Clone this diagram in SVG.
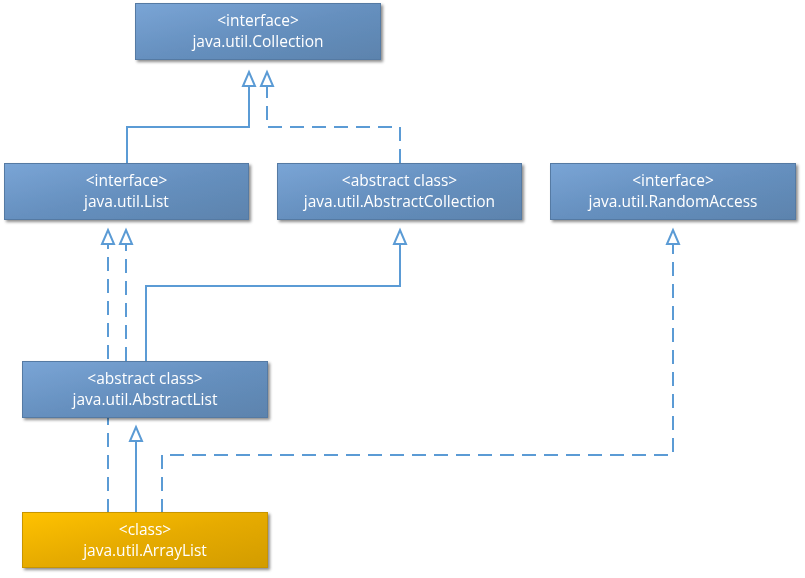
<svg xmlns="http://www.w3.org/2000/svg" width="805" height="578" viewBox="0 0 805 578">
<style>
.node rect{stroke-width:1}
.blue{fill:url(#gBlue);stroke:#557aa3}
.gold{fill:url(#gGold);stroke:#c89500}
.t{font-family:"Open Sans","Liberation Sans",sans-serif;font-size:15.5px;fill:#ffffff;text-anchor:middle}
.c{fill:none;stroke:#5b9bd5;stroke-width:2;marker-end:url(#tri)}
.d{stroke-dasharray:14 8}
</style>
<defs>
<linearGradient id="gBlue" x1="0" y1="0" x2="1" y2="1">
<stop offset="0" stop-color="#7aa5d6"/>
<stop offset="0.5" stop-color="#6690bf"/>
<stop offset="1" stop-color="#5c83ad"/>
</linearGradient>
<linearGradient id="gGold" x1="0" y1="0" x2="1" y2="1">
<stop offset="0" stop-color="#ffc200"/>
<stop offset="0.5" stop-color="#e6ab00"/>
<stop offset="1" stop-color="#d29c00"/>
</linearGradient>
<filter id="sh" x="-5%" y="-10%" width="115%" height="140%">
<feDropShadow dx="2" dy="2" stdDeviation="1.5" flood-color="#000" flood-opacity="0.45"/>
</filter>
<marker id="tri" markerUnits="userSpaceOnUse" markerWidth="18" markerHeight="16" refX="1" refY="8" orient="auto">
<path d="M1,2 L15,8 L1,14 Z" fill="#ffffff" stroke="#5b9bd5" stroke-width="2"/>
</marker>
</defs>
<rect width="805" height="578" fill="#ffffff"/>
<g id="connectors">
<path class="c" d="M127,163 V127 H249 V86"/>
<path class="c d" d="M400,163 V127 H267 V86"/>
<path class="c d" d="M108,513 V244"/>
<path class="c d" d="M126,361 V244"/>
<path class="c" d="M146,361 V286 H400 V244"/>
<path class="c" d="M136,513 V441"/>
<path class="c d" d="M162,513 V455 H673 V244"/>
</g>
<g id="collection" class="node" filter="url(#sh)">
<rect class="blue" x="135.5" y="3.5" width="245" height="56"/>
<text class="t" x="258" y="26">&lt;interface&gt;</text>
<text class="t" x="258" y="47">java.util.Collection</text>
</g>
<g id="list" class="node" filter="url(#sh)">
<rect class="blue" x="4.5" y="163.5" width="244" height="56"/>
<text class="t" x="126.5" y="186">&lt;interface&gt;</text>
<text class="t" x="126.5" y="207">java.util.List</text>
</g>
<g id="abstractcollection" class="node" filter="url(#sh)">
<rect class="blue" x="277.5" y="163.5" width="244" height="56"/>
<text class="t" x="399.5" y="186">&lt;abstract class&gt;</text>
<text class="t" x="399.5" y="207">java.util.AbstractCollection</text>
</g>
<g id="randomaccess" class="node" filter="url(#sh)">
<rect class="blue" x="550.5" y="163.5" width="245" height="56"/>
<text class="t" x="673" y="186">&lt;interface&gt;</text>
<text class="t" x="673" y="207">java.util.RandomAccess</text>
</g>
<g id="abstractlist" class="node" filter="url(#sh)">
<rect class="blue" x="22.5" y="361.5" width="245" height="56"/>
<text class="t" x="145" y="384">&lt;abstract class&gt;</text>
<text class="t" x="145" y="405">java.util.AbstractList</text>
</g>
<g id="arraylist" class="node" filter="url(#sh)">
<rect class="gold" x="22.5" y="512.5" width="245" height="55"/>
<text class="t" x="145" y="535">&lt;class&gt;</text>
<text class="t" x="145" y="556">java.util.ArrayList</text>
</g>
</svg>
